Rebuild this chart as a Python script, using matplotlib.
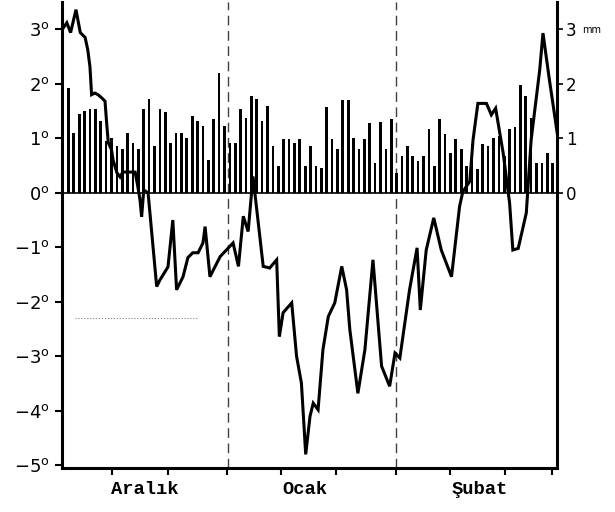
import numpy as np
import matplotlib.pyplot as plt

# daily bars (right axis, mm), one per day from 1 Dec
rain = [1.0, 1.92, 1.1, 1.45, 1.5, 1.54, 1.54, 1.32, 0.95, 1.0, 0.86, 0.8,
        1.1, 0.92, 0.8, 1.54, 1.72, 0.86, 1.54, 1.48, 0.92, 1.1, 1.1, 1.0,
        1.41, 1.32, 1.23, 0.6, 1.35, 2.2, 1.23, 0.92, 0.92, 1.54, 1.38, 1.78,
        1.72, 1.32, 1.6, 0.86, 0.49, 0.98, 0.98, 0.92, 0.98, 0.49, 0.86, 0.49,
        0.46, 1.57, 0.98, 0.8, 1.7, 1.7, 1.0, 0.8, 0.98, 1.28, 0.55, 1.29,
        0.8, 1.35, 0.36, 0.67, 0.86, 0.67, 0.58, 0.67, 1.17, 0.49, 1.35, 1.07,
        0.73, 0.98, 0.8, 0.49, 0.89, 0.43, 0.89, 0.86, 1.0, 1.04, 0.67, 1.17,
        1.2, 1.97, 1.78, 1.38, 0.55, 0.55, 0.73, 0.55]

# temperature curve vertices (day, degrees)
temp_day = [-0.2, 0.7, 1.4, 2.4, 3.2, 4.1, 4.6, 5.0, 5.3, 5.9, 6.5, 7.2, 7.8,
            8.1, 8.4, 9.0, 9.3, 10.0, 10.6, 11.1, 13.4, 13.9, 14.3, 14.6, 15.0,
            15.8, 17.4, 18.0, 19.5, 20.4, 21.1, 22.3, 23.2, 24.1, 25.1, 26.0,
            26.4, 27.3, 29.2, 31.6, 32.6, 33.5, 34.4, 35.3, 37.2, 38.4, 39.7,
            40.2, 40.9, 42.5, 43.4, 44.3, 45.1, 45.9, 46.5, 47.4, 48.3, 49.3,
            50.5, 51.8, 52.7, 53.3, 54.8, 56.1, 57.6, 59.2, 60.7, 61.7, 62.6,
            64.4, 65.8, 66.4, 67.5, 68.9, 70.3, 72.2, 73.7, 74.3, 75.6, 76.2,
            77.1, 78.7, 79.6, 80.4, 81.8, 83.0, 83.6, 84.6, 86.1, 87.0, 88.6,
            89.2, 90.4, 91.4, 91.9]
temp_val = [2.99, 3.12, 2.94, 3.36, 2.94, 2.85, 2.62, 2.31, 1.80, 1.83, 1.80,
            1.74, 1.68, 1.28, 0.92, 0.79, 0.60, 0.37, 0.29, 0.38, 0.38, 0.11,
            -0.13, -0.44, 0.05, 0.0, -1.72, -1.60, -1.36, -0.50, -1.78, -1.54,
            -1.19, -1.10, -1.10, -0.92, -0.62, -1.54, -1.17, -0.92, -1.35,
            -0.43, -0.71, 0.30, -1.35, -1.38, -1.23, -2.64, -2.20, -2.02,
            -3.0, -3.49, -4.8, -4.1, -3.86, -3.98, -2.88, -2.27, -2.02, -1.35,
            -1.78, -2.51, -3.68, -2.88, -1.23, -3.18, -3.55, -2.94, -3.03,
            -1.78, -1.01, -2.15, -1.05, -0.46, -1.05, -1.54, -0.25, 0.02, 0.21,
            0.97, 1.64, 1.64, 1.43, 1.55, 0.73, -0.19, -1.05, -1.02, -0.37,
            0.97, 2.26, 2.93, 2.07, 1.40, 1.06]

months = ['Aralık', 'Ocak', 'Şubat']
month_centers = [15.2, 44.9, 77.4]
month_bounds = [30.6, 61.8]
x_ticks = [9.1, 19.5, 30.5, 40.5, 50.7, 61.8, 71.9, 82.1, 90.8]
left_ticks = list(range(-5, 4))
right_ticks = [0, 1, 2, 3]

fig = plt.figure(figsize=(6.15, 5.12), dpi=100)
ax = fig.add_axes([0.1008, 0.0859, 0.8057, 0.9101])
ax.set_xlim(-0.2, 91.9)
ax.set_ylim(-5.05, 3.5)

days = np.arange(len(rain))
ax.bar(days, rain, width=0.5, color='black', zorder=2)
ax.axhline(0, color='black', lw=1.2, zorder=2)
ax.plot(temp_day, temp_val, color='black', lw=2.2, zorder=3,
        solid_joinstyle='miter')

# month boundaries and a stray dotted guide
for b in month_bounds:
    ax.axvline(b, color='0.25', lw=1.0, dashes=(7, 4), zorder=1)
ax.plot([2.2, 24.9], [-2.3, -2.3], color='0.5', lw=0.8, ls=':', zorder=1)

for s in ['left', 'bottom', 'right']:
    ax.spines[s].set_linewidth(2.2)
ax.spines['top'].set_visible(False)

ax.set_xticks(x_ticks)
ax.set_xticklabels([])
ax.tick_params(axis='x', direction='out', length=5, width=1.5)

ax.set_yticks(left_ticks)
ax.set_yticklabels([('\u2212' if v < 0 else '') + f'{abs(v)}$^\\mathregular{{o}}$'
                    for v in left_ticks], fontsize=13)
ax.tick_params(axis='y', direction='out', length=5, width=1.5, pad=4)

ax2 = ax.twinx()
ax2.set_ylim(ax.get_ylim())
ax2.set_yticks(right_ticks)
ax2.set_yticklabels([str(v) for v in right_ticks], fontsize=12)
ax2.tick_params(axis='y', direction='out', length=4, width=1.2, pad=2)
for s in ax2.spines.values():
    s.set_visible(False)

for name, c in zip(months, month_centers):
    ax.text(c, -5.45, name, ha='center', va='center', fontsize=13.5,
            fontweight='bold', family='Liberation Mono')

fig.text(592 / 615, 1 - 30 / 512, 'mm', fontsize=7, ha='center', va='center')

fig.savefig('out.png', dpi=100)
